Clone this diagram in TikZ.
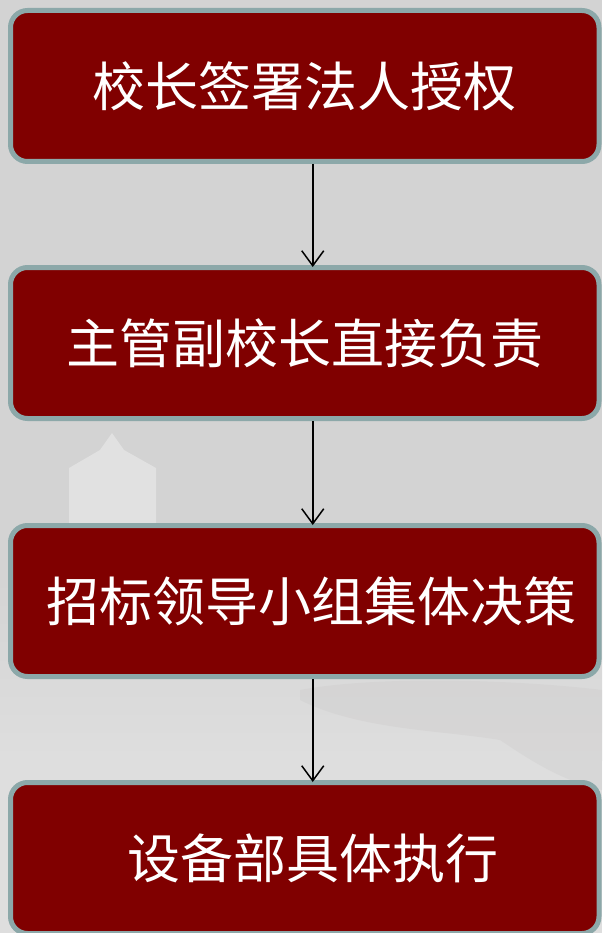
\documentclass[tikz,border=0pt]{standalone}
\usepackage{fontspec}
\newfontfamily\cjk{Noto Sans CJK SC}
\usetikzlibrary{arrows.meta}
\definecolor{bgc}{HTML}{D3D3D3}
\definecolor{bglight}{HTML}{DEDEDE}
\definecolor{towerc}{HTML}{E1E1E1}
\definecolor{treec}{HTML}{CCCACA}
\definecolor{boxfill}{HTML}{800000}
\definecolor{boxline}{HTML}{8CA8A9}
\tikzset{
  stepbox/.style={draw=boxline, fill=boxfill, line width=5pt, rounded corners=17pt,
    minimum width=588.5pt, minimum height=151pt, inner sep=0pt,
    text=white, font=\cjk\fontsize{53pt}{60pt}\selectfont},
  arr/.style={draw=black, line width=1.5pt, -{Straight Barb[length=15pt,width=22pt,line width=1.5pt]}}
}
\begin{document}
\begin{tikzpicture}[x=1pt,y=1pt]
\useasboundingbox (0,0) rectangle (602,-933);
% background
\fill[bgc] (0,0) rectangle (602,-933);
\shade[top color=bgc, bottom color=bglight] (0,-560) rectangle (602,-760);
\fill[bglight] (0,-760) rectangle (602,-933);
% faint tower
\fill[towerc] (69,-530) -- (69,-468) -- (100,-450) -- (112,-433) -- (124,-450) -- (156,-468) -- (156,-530) -- cycle;
% faint tree
\fill[treec, opacity=0.35] (300,-690) .. controls (380,-675) and (520,-680) .. (602,-690)
  -- (602,-790) .. controls (560,-780) and (530,-760) .. (500,-740)
  .. controls (440,-730) and (360,-730) .. (300,-700) -- cycle;
% boxes
\node[stepbox] (b1) at (304.75,-86)  {校长签署法人授权};
\node[stepbox] (b2) at (304.75,-343) {主管副校长直接负责};
\node[stepbox] (b3) at (304.75,-601) {\hspace*{14pt}招标领导小组集体决策};
\node[stepbox] (b4) at (304.75,-858) {\hspace*{16pt}设备部具体执行};
% arrows
\draw[arr] ([xshift=8pt]b1.south) -- ([xshift=8pt,yshift=-2pt]b2.north);
\draw[arr] ([xshift=8pt]b2.south) -- ([xshift=8pt,yshift=-2pt]b3.north);
\draw[arr] ([xshift=8pt]b3.south) -- ([xshift=8pt,yshift=-2pt]b4.north);
\end{tikzpicture}
\end{document}
